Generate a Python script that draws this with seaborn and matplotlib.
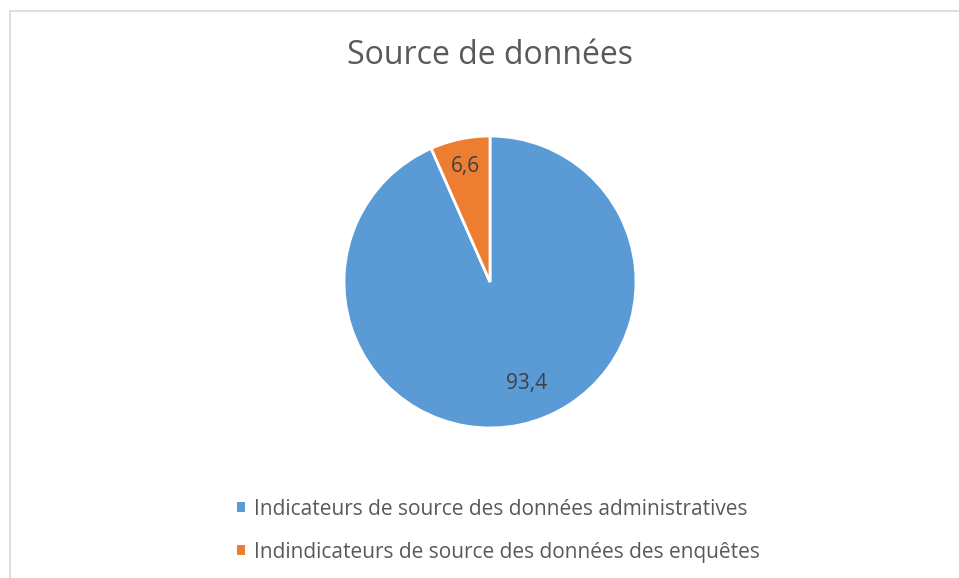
import matplotlib
matplotlib.use('Agg')
import matplotlib.pyplot as plt
import seaborn as sns
from matplotlib.patches import Patch
from matplotlib.lines import Line2D
import numpy as np

labels = ['Indicateurs de source des données administratives',
          'Indindicateurs de source des données des enquêtes']
values = [93.4, 6.6]
value_text = ['93,4', '6,6']
colors = ['#5B9BD5', '#ED7D31']
title = 'Source de données'

sns.set_theme(style = 'white')
plt.rcParams['font.family'] = ['Open Sans', 'DejaVu Sans']

W, H = 959, 578
fig = plt.figure(figsize = (W / 100, H / 100), dpi = 100)

# pie centre ~ (490, 282) px, radius ~146 px
cx, cy, r = 490, 282, 146
half = 1.25 * r
ax = fig.add_axes([(cx - half) / W, (H - cy - half) / H, 2 * half / W, 2 * half / H])
wedges, _ = ax.pie(values, colors = colors, startangle = 90, counterclock = False,
                   wedgeprops = dict(edgecolor = 'white', linewidth = 2))
ax.set_xlim(-1.25, 1.25)
ax.set_ylim(-1.25, 1.25)
ax.set_aspect('equal')
ax.axis('off')

# data labels, placed along each wedge
label_r = [0.74, 0.81]
label_shift = [8, 0]
for w, txt, rr, sh in zip(wedges, value_text, label_r, label_shift):
    ang = np.deg2rad((w.theta1 + w.theta2) / 2 + sh)
    ax.text(rr * np.cos(ang), rr * np.sin(ang), txt, ha = 'center', va = 'center',
            fontsize = 15, color = '#404040')

fig.text(cx / W, 1 - 55 / H, title, ha = 'center', va = 'center',
         fontsize = 23, color = '#595959')

handles = [Patch(facecolor = c, edgecolor = 'none') for c in colors]
fig.legend(handles, labels, loc = 'upper left', bbox_to_anchor = (218 / W, 1 - 480 / H),
           frameon = False, fontsize = 15, labelcolor = '#595959',
           handlelength = 0.38, handleheight = 0.38, handletextpad = 0.45,
           labelspacing = 1.05)

# chart frame (top and left edges visible)
fig.add_artist(Line2D([10 / W, 1], [1 - 11 / H, 1 - 11 / H], color = '#D9D9D9', linewidth = 1.2))
fig.add_artist(Line2D([10 / W, 10 / W], [0, 1 - 11 / H], color = '#D9D9D9', linewidth = 1.2))

fig.savefig('out.png', dpi = 100, facecolor = 'white')
